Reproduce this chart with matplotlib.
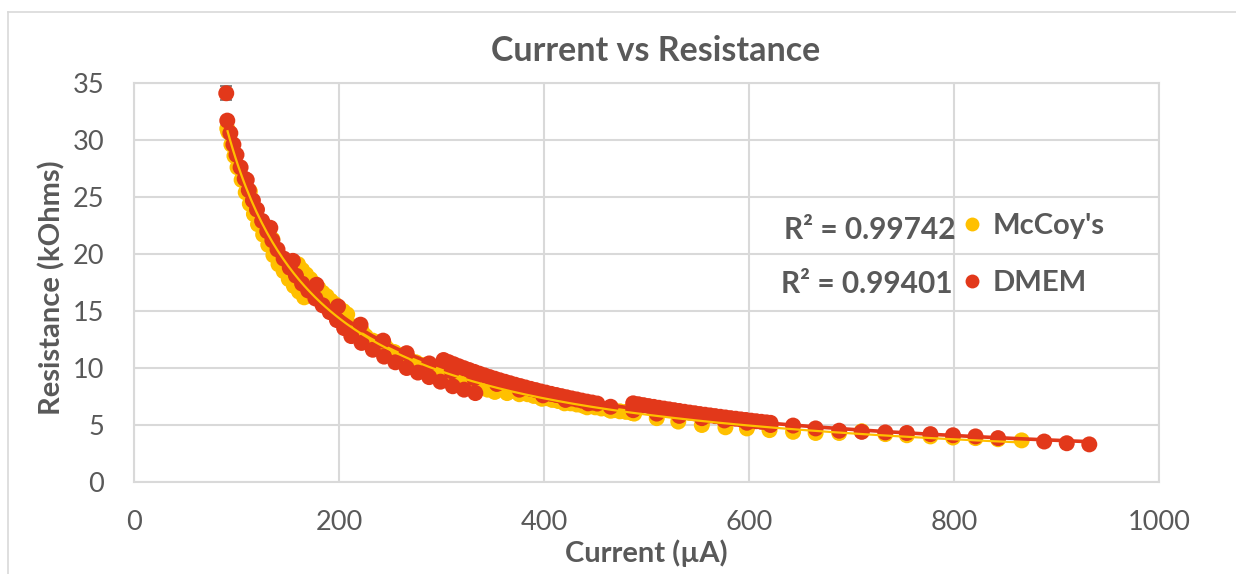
import numpy as np
import matplotlib
matplotlib.use("Agg")
import matplotlib.pyplot as plt
from matplotlib.lines import Line2D

# ---------------- data ----------------
# McCoy's : averaged sweep (with error bars)
mc_avg_I = [91, 113, 135, 155, 178, 200, 222, 244, 266, 288, 310, 332, 354, 376, 398, 420,
            442, 465, 488, 510, 531, 554, 577, 598, 620, 643, 665, 688, 710, 733, 754, 777,
            799, 821, 843, 866]
mc_avg_R = [31.0, 25.5, 21.3, 18.2, 16.3, 14.7, 13.3, 12.1, 11.1, 10.2, 9.4, 8.8, 8.2, 7.7,
            7.3, 6.9, 6.55, 6.25, 6.0, 5.6, 5.3, 5.0, 4.8, 4.7, 4.55, 4.4, 4.3, 4.3, 4.45,
            4.2, 4.1, 4.0, 3.9, 3.85, 3.75, 3.65]
mc_avg_err = [0.2, 0.2, 0.2, 0.8, 0.2, 0.15, 0.15, 0.15, 0.15, 0.15, 0.15, 0.15, 0.15, 0.15,
              0.1, 0.1, 0.1, 0.1, 0.1, 0.1, 0.1, 0.1, 0.1, 0.1, 0.1, 0.1, 0.1, 0.1, 0.1,
              0.1, 0.1, 0.1, 0.1, 0.1, 0.1, 0.1]
# McCoy's : dense sweeps
mc_s1_I = [92, 95, 98, 101, 105, 109, 113, 117, 121, 126, 131, 136, 141, 146, 151, 156, 161, 166]
mc_s1_R = [30.7, 29.6, 28.6, 27.6, 26.5, 25.4, 24.4, 23.5, 22.6, 21.7, 20.8, 19.9, 19.1,
           18.5, 17.8, 17.2, 16.7, 16.2]
mc_s2_I = [160, 164, 168, 172, 176, 180, 184, 188, 192, 196, 200, 204, 208]
mc_s2_R = [19.1, 18.6, 18.2, 17.8, 17.4, 17.0, 16.6, 16.3, 15.9, 15.6, 15.3, 15.0, 14.7]
mc_s3_I = [212, 219, 226, 233, 240, 247, 254, 261, 268, 275, 282, 289, 296, 303, 310, 317,
           324, 331, 338, 345, 352, 364]
mc_s3_R = [13.7, 13.2, 12.8, 12.4, 12.05, 11.7, 11.4, 11.1, 10.8, 10.5, 10.25, 10.0, 9.75,
           9.5, 9.3, 9.05, 8.85, 8.65, 8.45, 8.1, 7.9, 7.8]
mc_s4_I = [372, 378, 384, 390, 396, 402, 408, 414, 420, 426, 432, 438, 444, 450, 456, 462,
           468, 474, 480, 486]
mc_s4_R = [7.95, 7.8, 7.7, 7.55, 7.45, 7.35, 7.2, 7.1, 7.0, 6.9, 6.8, 6.7, 6.65, 6.55, 6.45,
           6.4, 6.3, 6.2, 6.15, 6.05]

# DMEM : averaged sweep (with error bars)
dm_avg_I = [90, 110, 133, 155, 178, 199, 221, 243, 266, 288, 310, 332, 354, 376, 399, 421,
            443, 465, 487, 510, 532, 554, 576, 598, 621, 643, 665, 688, 710, 733, 754, 777,
            799, 821, 843, 888, 910, 932]
dm_avg_R = [34.1, 26.5, 22.3, 19.4, 17.3, 15.4, 13.8, 12.4, 11.3, 10.4, 9.7, 9.1, 8.6, 8.1,
            7.6, 7.2, 6.9, 6.6, 6.3, 6.0, 5.8, 5.6, 5.4, 5.2, 5.0, 4.95, 4.7, 4.5, 4.4, 4.35,
            4.3, 4.2, 4.1, 4.0, 3.85, 3.55, 3.4, 3.3]
dm_avg_err = [0.6, 0.3, 0.2, 0.2, 0.2, 0.15, 0.15, 0.15, 0.15, 0.15, 0.15, 0.15, 0.1, 0.1,
              0.1, 0.1, 0.1, 0.1, 0.1, 0.1, 0.1, 0.1, 0.1, 0.1, 0.1, 0.1, 0.1, 0.1, 0.1,
              0.1, 0.1, 0.1, 0.1, 0.1, 0.1, 0.1, 0.1, 0.1]
# DMEM : dense sweeps
dm_s1_I = [91, 94, 97, 100, 104, 108, 112, 116, 120, 125, 130, 135, 140, 146, 152, 158, 164,
           170, 177, 184, 191, 198, 205, 212, 222, 233, 244, 255, 266, 277, 288, 299, 311,
           322, 333]
dm_s1_R = [31.7, 30.6, 29.6, 28.7, 27.6, 26.6, 25.6, 24.7, 23.9, 22.9, 22.0, 21.2, 20.4,
           19.6, 18.8, 18.1, 17.4, 16.8, 16.1, 15.5, 14.9, 14.2, 13.5, 12.8, 12.2, 11.6,
           11.0, 10.5, 10.0, 9.6, 9.2, 8.8, 8.4, 8.1, 7.8]
dm_s2_I = [302, 307, 312, 317, 322, 327, 332, 337, 342, 347, 352, 357, 362, 367, 372, 377,
           382, 387, 392, 397, 402, 407, 412, 417, 422, 427, 432, 437, 442, 447, 452]
dm_s2_R = [10.70, 10.51, 10.33, 10.15, 9.98, 9.82, 9.66, 9.50, 9.35, 9.20, 9.06, 8.92, 8.79,
           8.66, 8.53, 8.41, 8.29, 8.17, 8.06, 7.94, 7.84, 7.73, 7.63, 7.53, 7.43, 7.33,
           7.24, 7.14, 7.05, 6.97, 6.88]
dm_s3_I = [487, 492, 497, 502, 507, 512, 517, 522, 527, 532, 537, 542, 547, 552, 557, 562,
           567, 572, 577, 582, 587, 592, 597, 602, 607, 612, 617, 621]
dm_s3_R = [6.90, 6.82, 6.74, 6.66, 6.59, 6.51, 6.44, 6.37, 6.30, 6.23, 6.16, 6.09, 6.03,
           5.96, 5.90, 5.84, 5.78, 5.72, 5.66, 5.60, 5.55, 5.49, 5.44, 5.38, 5.33, 5.28,
           5.23, 5.19]

series_names = ["McCoy's", "DMEM"]
r2_labels = ["R² = 0.99742", "R² = 0.99401"]
x_ticks = [0, 200, 400, 600, 800, 1000]
y_ticks = [0, 5, 10, 15, 20, 25, 30, 35]

# ---------------- style ----------------
W, H = 1236, 574
DPI = 100
YEL = "#FFC000"
RED = "#E2381A"
GRID = "#D9D9D9"
TXT = "#595959"
FONT = ["Lato", "DejaVu Sans"]
plt.rcParams["font.family"] = FONT

fig = plt.figure(figsize=(W / DPI, H / DPI), dpi=DPI)
L, R_, T, B = 134, 1159, 83, 482
ax = fig.add_axes([L / W, 1 - B / H, (R_ - L) / W, (B - T) / H])

ms = 11.5  # marker diameter in points
S = ms ** 2


def draw_series(avg_I, avg_R, avg_err, sweeps, color, z):
    ax.errorbar(avg_I, avg_R, yerr=avg_err, fmt="none", ecolor="#6E6E6E",
                elinewidth=1.2, capsize=4.3, capthick=1.2, zorder=z)
    for sI, sR in sweeps:
        ax.scatter(sI, sR, s=S, color=color, edgecolors="none", zorder=z + 0.1)
    ax.scatter(avg_I, avg_R, s=S, color=color, edgecolors="none", zorder=z + 0.2)


mc_sweeps = [(mc_s1_I, mc_s1_R), (mc_s2_I, mc_s2_R), (mc_s3_I, mc_s3_R), (mc_s4_I, mc_s4_R)]
dm_sweeps = [(dm_s1_I, dm_s1_R), (dm_s2_I, dm_s2_R), (dm_s3_I, dm_s3_R)]
draw_series(mc_avg_I, mc_avg_R, mc_avg_err, mc_sweeps, YEL, 3)
draw_series(dm_avg_I, dm_avg_R, dm_avg_err, dm_sweeps, RED, 4)


# power-law trendlines fitted to all points of each series
def power_fit(sweeps, avg_I, avg_R):
    allI = np.concatenate([np.asarray(a, float) for a, _ in sweeps] + [np.asarray(avg_I, float)])
    allR = np.concatenate([np.asarray(b, float) for _, b in sweeps] + [np.asarray(avg_R, float)])
    b, loga = np.polyfit(np.log(allI), np.log(allR), 1)
    xs = np.linspace(allI.min(), allI.max(), 300)
    return xs, np.exp(loga) * xs ** b


xd, yd = power_fit(dm_sweeps, dm_avg_I, dm_avg_R)
xm, ym = power_fit(mc_sweeps, mc_avg_I, mc_avg_R)
ax.plot(xd, yd, color=RED, lw=2.6, zorder=6, solid_capstyle="butt")
ax.plot(xm, ym, color=YEL, lw=1.6, zorder=7, solid_capstyle="butt")

# axes styling
ax.set_xlim(0, 1000)
ax.set_ylim(0, 35)
ax.set_xticks(x_ticks)
ax.set_yticks(y_ticks)
ax.grid(True, color=GRID, lw=1.5, zorder=0)
ax.set_axisbelow(True)
for sp in ax.spines.values():
    sp.set_color(GRID)
    sp.set_linewidth(1.5)
ax.tick_params(length=0, labelsize=19.5, labelcolor=TXT)
ax.tick_params(axis="x", pad=20)
ax.tick_params(axis="y", pad=21.5)


def px(x, y):
    return x / W, 1 - y / H


fig.text(*px(656, 51), "Current vs Resistance", ha="center", va="center",
         fontsize=24.5, fontweight="bold", color=TXT)
fig.text(*px(646, 553), "Current (µA)", ha="center", va="center",
         fontsize=21, fontweight="bold", color=TXT)
fig.text(*px(52, 288), "Resistance (kOhms)", ha="center", va="center", rotation=90,
         fontsize=21, fontweight="bold", color=TXT)

# trendline R² labels
fig.text(*px(956, 230), r2_labels[0], ha="right", va="center", fontsize=21.5,
         fontweight="bold", color=TXT)
fig.text(*px(953, 284), r2_labels[1], ha="right", va="center", fontsize=21.5,
         fontweight="bold", color=TXT)

# legend
handles = [Line2D([], [], ls="none", marker="o", ms=10, mfc=c, mec="none") for c in (YEL, RED)]
leg = fig.legend(handles, series_names, loc="upper left", bbox_to_anchor=px(959, 213),
                 frameon=False, fontsize=21, labelspacing=1.07, handletextpad=0.25,
                 handlelength=0.9, borderaxespad=0, borderpad=0)
for t in leg.get_texts():
    t.set_color(TXT)
    t.set_fontweight("bold")

# outer chart border (partially visible)
fig.add_artist(Line2D([8 / W, 1], [1 - 12 / H, 1 - 12 / H], color=GRID, lw=1.2,
                      transform=fig.transFigure))
fig.add_artist(Line2D([8 / W, 8 / W], [0, 1 - 12 / H], color=GRID, lw=1.2,
                      transform=fig.transFigure))

fig.savefig("out.png", dpi=DPI)
